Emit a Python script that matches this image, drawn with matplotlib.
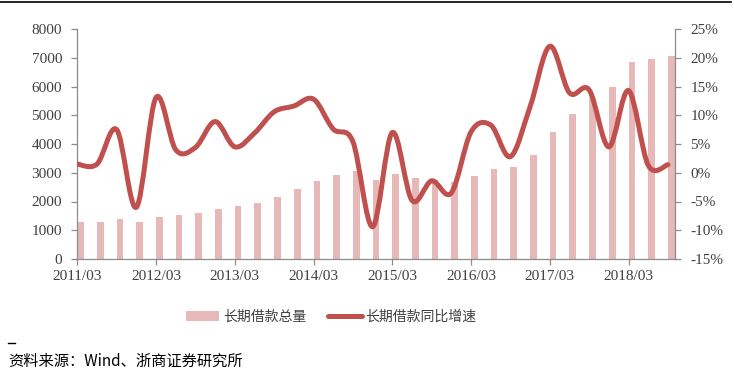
import matplotlib
matplotlib.use('Agg')
import matplotlib.pyplot as plt
from matplotlib.path import Path
from matplotlib.patches import PathPatch, Patch
from matplotlib.lines import Line2D
import numpy as np

# ---------------- data ----------------
quarters = [f'{y}/{m:02d}' for y in range(2011, 2019) for m in (3, 6, 9, 12)][:31]
loan_total = [1280, 1300, 1390, 1300, 1470, 1530, 1610, 1750, 1830, 1955,
              2160, 2420, 2725, 2915, 3060, 2755, 2960, 2820, 2760, 2680,
              2895, 3130, 3215, 3625, 4430, 5055, 5600, 6000, 6864, 6960, 7055]
loan_yoy = [1.5, 1.5, 7.5, -6.0, 13.1, 4.0, 4.4, 8.9, 4.5, 6.9,
            10.6, 11.6, 12.8, 7.6, 5.4, -9.4, 7.0, -4.8, -1.4, -3.5,
            7.1, 8.3, 2.8, 11.5, 22.0, 13.9, 14.4, 4.5, 14.3, 1.3, 1.4]
xtick_labels = ['2011/03', '2012/03', '2013/03', '2014/03',
                '2015/03', '2016/03', '2017/03', '2018/03']
left_ticks = [0, 1000, 2000, 3000, 4000, 5000, 6000, 7000, 8000]
right_ticks = [-15, -10, -5, 0, 5, 10, 15, 20, 25]
right_labels = ['-15%', '-10%', '-5%', '0%', '5%', '10%', '15%', '20%', '25%']
legend_labels = ['长期借款总量', '长期借款同比增速']
source_text = '资料来源：Wind、浙商证券研究所'

# ---------------- style ----------------
BAR_C = '#E6B8B7'
LINE_C = '#C0504D'
AX_C = '#8C8C8C'
TXT_C = '#404040'
SERIF = ['Liberation Serif', 'DejaVu Serif']
CJK = ['Noto Sans CJK SC', 'DejaVu Sans']

W, H = 734, 373
fig = plt.figure(figsize=(W / 100, H / 100), dpi=100)
ax = fig.add_axes([77.3 / W, 1 - 259 / H, (675 - 77.3) / W, 230 / H])

x = np.arange(len(quarters))
ax.bar(x, loan_total, width=0.34, align='edge', color=BAR_C, zorder=2)
ax.set_xlim(0, 30.36)
ax.set_ylim(0, 8000)

ax2 = ax.twinx()
ax2.set_ylim(-15, 25)

# smoothed line (cubic Bezier through the data points)
pts = np.column_stack([x, loan_yoy]).astype(float)
n = len(pts)
verts = [pts[0]]
codes = [Path.MOVETO]
for i in range(n - 1):
    p0 = pts[i - 1] if i > 0 else pts[i]
    p1 = pts[i]
    p2 = pts[i + 1]
    p3 = pts[i + 2] if i + 2 < n else pts[i + 1]
    verts += [p1 + (p2 - p0) / 6, p2 - (p3 - p1) / 6, p2]
    codes += [Path.CURVE4] * 3
ax2.add_patch(PathPatch(Path(verts, codes), fill=False, edgecolor=LINE_C,
                        lw=3.6, capstyle='round', joinstyle='round', zorder=3))

# axes styling
for s in ['top', 'right']:
    ax.spines[s].set_visible(False)
for s in ['top', 'left', 'bottom']:
    ax2.spines[s].set_visible(False)
for sp in [ax.spines['left'], ax.spines['bottom'], ax2.spines['right']]:
    sp.set_color(AX_C)
    sp.set_linewidth(0.9)

ax.set_xticks(x[::4])
ax.set_xticklabels(xtick_labels)
ax.set_yticks(left_ticks)
ax.set_yticklabels([str(v) for v in left_ticks])
ax2.set_yticks(right_ticks)
ax2.set_yticklabels(right_labels)

ax.tick_params(axis='x', direction='out', length=4, width=0.9, color=AX_C,
               labelsize=11, labelcolor=TXT_C, pad=4)
ax.tick_params(axis='y', direction='out', length=4, width=0.9, color=AX_C,
               labelsize=11, labelcolor=TXT_C, pad=7)
ax2.tick_params(axis='y', direction='out', length=4, width=0.9, color=AX_C,
                labelsize=11, labelcolor=TXT_C, pad=7)
for lab in ax.get_xticklabels() + ax.get_yticklabels() + ax2.get_yticklabels():
    lab.set_family(SERIF)

# legend
handles = [Patch(facecolor=BAR_C, edgecolor='none'),
           Line2D([], [], color=LINE_C, lw=3.6, solid_capstyle='round')]
leg = fig.legend(handles, legend_labels, loc='center',
                 bbox_to_anchor=(331 / W, 1 - 317 / H), ncol=2, frameon=False,
                 handlelength=2.4, handletextpad=0.25, columnspacing=1.6,
                 prop={'family': CJK, 'size': 10})
for t in leg.get_texts():
    t.set_color(TXT_C)

# top rule, small dash and source
fig.add_artist(Line2D([0, 731 / W], [1 - 1.5 / H] * 2, color='black', lw=1.2))
fig.add_artist(Line2D([7.5 / W, 15 / W], [1 - 342.5 / H] * 2, color='black', lw=1.0))
fig.text(8 / W, 1 - 361 / H, source_text, va='center', ha='left',
         fontsize=11, family=CJK, color='black')

fig.savefig('out.png', dpi=100)
